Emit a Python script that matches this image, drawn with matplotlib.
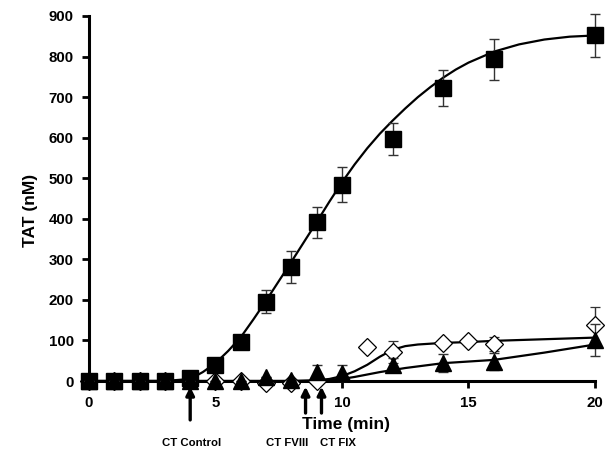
import matplotlib
matplotlib.use('Agg')
import matplotlib.pyplot as plt
from matplotlib import transforms

plt.rcParams['font.family'] = ['Liberation Sans', 'DejaVu Sans']
plt.rcParams['font.weight'] = 'bold'

# control (filled squares)
sq_t = [0, 1, 2, 3, 4, 5, 6, 7, 8, 9, 10, 12, 14, 16, 20]
sq_v = [0, 0, 0, 0, 8, 40, 96, 196, 281, 391, 484, 597, 723, 793, 852]
sq_e = [0, 0, 0, 0, 0, 0, 18, 28, 40, 38, 43, 40, 45, 51, 52]

# open diamonds
di_t = [0, 1, 2, 3, 4, 5, 6, 7, 8, 9, 11, 12, 14, 15, 16, 20]
di_v = [0, 0, 0, 0, 0, 0, 0, -4, -4, 0, 85, 72, 94, 99, 91, 138]
di_e = [0, 0, 0, 0, 0, 0, 0, 0, 0, 0, 0, 27, 10, 0, 18, 45]

# filled triangles
tr_t = [0, 1, 2, 3, 4, 5, 6, 7, 8, 9, 10, 12, 14, 16, 20]
tr_v = [0, 0, 0, 0, 0, 0, 0, 10, 3, 22, 20, 39, 44, 48, 101]
tr_e = [0, 0, 0, 0, 0, 0, 0, 0, 0, 17, 19, 18, 22, 20, 40]

# fitted curves
fit_t = [0, 1, 2, 3, 4, 4.5, 5, 5.5, 6, 6.5, 7, 7.5, 8, 8.5, 9, 9.5, 10, 10.5, 11,
         11.5, 12, 12.5, 13, 13.5, 14, 14.5, 15, 16, 17, 18, 19, 20]
fit_sq = [0, 0, 0, 0, 5, 22, 44, 74, 108, 152, 198, 246, 294, 343, 392, 442, 490, 534,
          574, 610, 642, 672, 700, 725, 748, 768, 785, 812, 830, 842, 849, 852]
fit_di = [0, 0, 0, 0, 0, 0, 0, 0, 0, 0, 0, 0, 0, 1, 2, 5, 12, 24, 40,
          60, 77, 86, 90, 92, 94, 95, 96, 99, 101, 103, 105, 107]
fit_tr = [0, 0, 0, 0, 0, 0, 0, 0, 0, 0, 0, 0, 0, 0, 0, 2, 5, 10, 16,
          22, 27, 32, 36, 40, 44, 46, 48, 52, 61, 70, 80, 90]

arrow_t = [4.0, 8.56, 9.19]
arrow_len = [82, 65, 65]
ct_labels = ['CT Control', 'CT FVIII', 'CT FIX']
ct_label_t = [4.05, 7.85, 9.85]

fig = plt.figure(figsize=(6.12, 4.57), dpi=100)
ax = fig.add_axes([0.1454, 0.1663, 0.8268, 0.7987])

ax.plot(fit_t, fit_sq, color='black', lw=1.6, clip_on=False, zorder=2)
ax.plot(fit_t, fit_di, color='black', lw=1.6, clip_on=False, zorder=2)
ax.plot(fit_t, fit_tr, color='black', lw=1.6, clip_on=False, zorder=2)

ax.errorbar(sq_t, sq_v, yerr=sq_e, fmt='s', color='black', ms=11.5, ecolor='#333333',
            elinewidth=1, capsize=3.5, capthick=1, clip_on=False, zorder=4)
ax.errorbar(di_t, di_v, yerr=di_e, fmt='D', mfc='white', mec='black', mew=0.9, ms=9.5,
            ecolor='#333333', elinewidth=1, capsize=3.5, capthick=1, clip_on=False, zorder=3)
ax.errorbar(tr_t, tr_v, yerr=tr_e, fmt='^', color='black', ms=11, ecolor='#333333',
            elinewidth=1, capsize=3.5, capthick=1, clip_on=False, zorder=5)

ax.set_xlim(0, 20)
ax.set_ylim(0, 900)
ax.set_xticks([0, 5, 10, 15, 20])
ax.set_yticks(range(0, 901, 100))
for s in ['top', 'right']:
    ax.spines[s].set_visible(False)
for s in ['left', 'bottom']:
    ax.spines[s].set_linewidth(2.2)
ax.tick_params(axis='both', direction='out', length=5, width=2, labelsize=10.8, pad=6)
for lab in ax.get_xticklabels() + ax.get_yticklabels():
    lab.set_fontweight('bold')

for t, L in zip(arrow_t, arrow_len):
    ax.annotate('', xy=(t, -14), xytext=(t, -14 - L), annotation_clip=False,
                arrowprops=dict(arrowstyle='-|>', color='black', lw=2.4,
                                mutation_scale=12, shrinkA=0, shrinkB=0))

tr = transforms.blended_transform_factory(ax.transData, fig.transFigure)
for t, s in zip(ct_label_t, ct_labels):
    fig.text(t, 1 - 443 / 457, s, transform=tr, ha='center', va='center',
             fontsize=8.2, fontweight='bold')

fig.text(346 / 612, 1 - 425 / 457, 'Time (min)', ha='center', va='center',
         fontsize=12.5, fontweight='bold')
fig.text(30 / 612, 1 - 210 / 457, 'TAT (nM)', ha='center', va='center',
         rotation=90, fontsize=12.5, fontweight='bold')

plt.savefig('out.png', dpi=100)
